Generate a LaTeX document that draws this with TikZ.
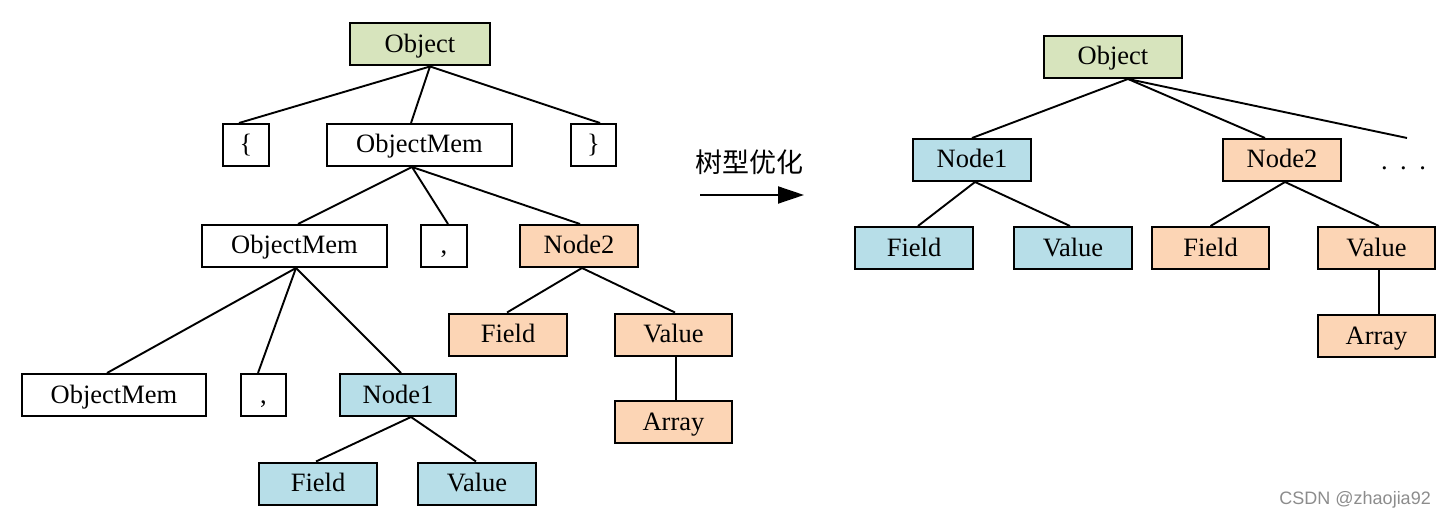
\documentclass[tikz,border=0pt]{standalone}
\usepackage{fontspec}
\setmainfont{Liberation Serif}
\newfontfamily\cjkfont{Noto Sans CJK SC}
\newfontfamily\wmfont{Liberation Sans}
\usetikzlibrary{arrows.meta}
\definecolor{objgreen}{HTML}{D7E4BD}
\definecolor{nodeblue}{HTML}{B7DEE8}
\definecolor{nodeorange}{HTML}{FCD5B5}
\tikzset{
  box/.style={draw, line width=2pt, minimum height=42pt, inner sep=0pt,
    text height=19pt, text depth=3pt, font=\fontsize{26.5}{30}\selectfont},
  gbox/.style={box, fill=objgreen},
  bbox/.style={box, fill=nodeblue},
  obox/.style={box, fill=nodeorange},
  wbox/.style={box, fill=white},
  link/.style={line width=1.9pt},
}
\begin{document}
\begin{tikzpicture}[x=1pt,y=-1pt]
\useasboundingbox (0,0) rectangle (1447,521);
% ---------- left tree ----------
\node[gbox, minimum width=140pt] (lo) at (420,44.5) {Object};
\node[wbox, minimum width=46pt] (lb) at (246,145) {\{};
\node[wbox, minimum width=185pt] (om1) at (419.5,145) {ObjectMem};
\node[wbox, minimum width=45pt] (rb) at (593.5,145) {\}};
\node[wbox, minimum width=185pt] (om2) at (294.5,246) {ObjectMem};
\node[wbox, minimum width=46pt] (c1) at (444,246) {,};
\node[obox, minimum width=118pt] (n2) at (579,246) {Node2};
\node[obox, minimum width=118pt] (f2) at (508,334.5) {Field};
\node[obox, minimum width=117pt] (v2) at (673.5,334.5) {Value};
\node[obox, minimum width=117pt] (a2) at (673.5,422) {Array};
\node[wbox, minimum width=184pt] (om3) at (114,395) {ObjectMem};
\node[wbox, minimum width=45pt] (c2) at (263.5,395) {,};
\node[bbox, minimum width=116pt] (n1) at (398,395) {Node1};
\node[bbox, minimum width=118pt] (f1) at (318,483.5) {Field};
\node[bbox, minimum width=118pt] (v1) at (477,483.5) {Value};

\draw[link] ([xshift=10pt]lo.south) -- ([xshift=-7pt]lb.north);
\draw[link] ([xshift=10pt]lo.south) -- ([xshift=-8.5pt]om1.north);
\draw[link] ([xshift=10pt]lo.south) -- ([xshift=6.5pt]rb.north);
\draw[link] ([xshift=-7.5pt]om1.south) -- ([xshift=3.5pt]om2.north);
\draw[link] ([xshift=-7.5pt]om1.south) -- ([xshift=4pt]c1.north);
\draw[link] ([xshift=-7.5pt]om1.south) -- ([xshift=1pt]n2.north);
\draw[link] ([xshift=1.5pt]om2.south) -- ([xshift=-7pt]om3.north);
\draw[link] ([xshift=1.5pt]om2.south) -- ([xshift=-5.5pt]c2.north);
\draw[link] ([xshift=1.5pt]om2.south) -- ([xshift=3pt]n1.north);
\draw[link] ([xshift=13pt]n1.south) -- ([xshift=-2pt]f1.north);
\draw[link] ([xshift=13pt]n1.south) -- ([xshift=-1pt]v1.north);
\draw[link] ([xshift=3pt]n2.south) -- ([xshift=-1pt]f2.north);
\draw[link] ([xshift=3pt]n2.south) -- ([xshift=1.5pt]v2.north);
\draw[link] ([xshift=2.5pt]v2.south) -- ([xshift=2.5pt]a2.north);

% ---------- arrow ----------
\node[font=\cjkfont\fontsize{27}{30}\selectfont, inner sep=0pt] (lbl) at (749.5,162) {树型优化};
\coordinate (as) at (700,195);
\coordinate (ae) at (804,195);
\draw[line width=1.9pt, -{Triangle[length=26pt,width=17pt]}] (as) -- (ae);

% ---------- right tree ----------
\node[gbox, minimum width=138pt] (ro) at (1113,57) {Object};
\node[bbox, minimum width=118pt] (rn1) at (972,160) {Node1};
\node[obox, minimum width=118pt] (rn2) at (1282,160) {Node2};
\node[bbox, minimum width=118pt] (rf1) at (914,248) {Field};
\node[bbox, minimum width=118pt] (rv1) at (1073,248) {Value};
\node[obox, minimum width=117pt] (rf2) at (1210.5,248) {Field};
\node[obox, minimum width=117pt] (rv2) at (1376.5,248) {Value};
\node[obox, minimum width=117pt] (ra) at (1376.5,336) {Array};
\node[anchor=base, inner sep=0pt, font=\fontsize{26.5}{30}\selectfont] (dots) at (1403.5,170) {.\hskip 12.5pt.\hskip 12.5pt.};
\coordinate (dend) at (1407,138);

\draw[link] ([xshift=15pt]ro.south) -- (rn1.north);
\draw[link] ([xshift=15pt]ro.south) -- ([xshift=-17pt]rn2.north);
\draw[link] ([xshift=15pt]ro.south) -- (dend);
\draw[link] ([xshift=3pt]rn1.south) -- ([xshift=4pt]rf1.north);
\draw[link] ([xshift=3pt]rn1.south) -- ([xshift=-3pt]rv1.north);
\draw[link] ([xshift=3pt]rn2.south) -- (rf2.north);
\draw[link] ([xshift=3pt]rn2.south) -- ([xshift=2.5pt]rv2.north);
\draw[link] ([xshift=2.5pt]rv2.south) -- ([xshift=2.5pt]ra.north);

% ---------- watermark ----------
\node[anchor=east, inner sep=0pt, text=black!45, font=\wmfont\fontsize{18}{20}\selectfont] (wm) at (1431,500) {CSDN @zhaojia92};
\end{tikzpicture}
\end{document}
